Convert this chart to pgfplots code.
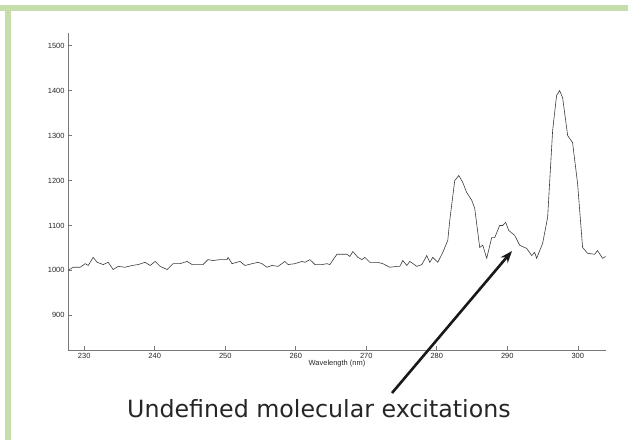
\documentclass[border=0pt]{standalone}
\usepackage{pgfplots}
\pgfplotsset{compat=1.18}
\usepackage{fontspec}
\setmainfont{Liberation Sans}
\newfontfamily\dejavu{DejaVu Sans}
\usetikzlibrary{arrows.meta}
\definecolor{framegreen}{RGB}{198,223,170}
\definecolor{axisgray}{RGB}{120,120,120}
\definecolor{tracegray}{RGB}{60,60,60}

\pgfplotstableread{
w counts
227.73 1000
228.44 1007
229.43 1007
230.14 1015
230.57 1011
231.27 1029
231.84 1018
232.69 1013
233.40 1018
234.11 1002
234.82 1009
235.81 1007
236.80 1011
237.65 1013
238.64 1018
239.35 1011
240.06 1020
240.77 1009
241.76 1002
242.61 1015
243.60 1015
244.59 1020
245.30 1013
246.01 1013
246.86 1013
247.56 1024
248.27 1022
249.26 1024
250.25 1024
250.40 1029
250.96 1015
252.10 1020
252.80 1011
253.80 1015
254.65 1018
255.21 1015
255.92 1007
256.63 1011
257.48 1009
258.47 1020
258.90 1013
259.89 1015
260.88 1020
261.30 1018
262.01 1024
262.72 1013
263.71 1013
264.42 1015
264.84 1013
265.84 1036
267.25 1036
267.68 1031
268.10 1042
268.81 1029
269.38 1024
269.80 1029
270.51 1018
271.64 1018
272.35 1015
273.34 1007
274.33 1009
274.76 1009
275.18 1022
275.75 1011
276.18 1020
277.17 1009
277.88 1013
278.58 1033
279.01 1018
279.43 1029
280.14 1018
280.85 1040
281.56 1067
281.84 1111
282.55 1200
283.12 1211
283.68 1196
284.25 1173
284.96 1156
285.38 1138
286.09 1051
286.52 1056
287.08 1027
287.79 1073
288.22 1073
288.92 1100
289.35 1100
289.77 1107
290.20 1089
291.05 1078
291.76 1056
292.75 1049
293.46 1033
293.88 1040
294.16 1027
295.01 1060
295.72 1118
296.43 1311
296.99 1389
297.42 1400
297.85 1384
298.56 1300
299.26 1284
299.97 1193
300.68 1051
301.39 1038
302.38 1036
302.80 1044
303.51 1027
303.94 1031
}\spectrum

\begin{document}
\begin{tikzpicture}[x=1bp,y=1bp]
\fill[white] (0,0) rectangle (628,-440);
\useasboundingbox (0,0) rectangle (628,-440);
% green frame, top and left
\fill[framegreen] (0,-5) rectangle (628,-11);
\fill[framegreen] (5,-5) rectangle (11,-440);

\begin{axis}[
  at={(68bp,-350bp)},
  anchor=south west,
  scale only axis,
  width=538bp,
  height=317bp,
  xmin=227.7, xmax=304,
  ymin=823, ymax=1528,
  axis x line=bottom,
  axis y line=left,
  axis line style={-, draw=axisgray, line width=0.6bp},
  tick align=inside,
  major tick length=4bp,
  tick style={draw=axisgray, line width=0.6bp},
  xtick={230,240,...,300},
  ytick={900,1000,...,1500},
  ticklabel style={font=\fontsize{7.5}{8}\selectfont, text=black!85},
  /pgf/number format/assume math mode=true,
  /pgf/number format/1000 sep={},
  xlabel={Wavelength (nm)},
  xlabel style={font=\fontsize{7.5}{8}\selectfont, text=black!85, inner sep=0pt, yshift=2bp},
  clip=false,
]
\addplot[tracegray, line width=0.6bp, mark=none] table[x=w, y=counts] {\spectrum};
\end{axis}

\draw[black!90, line width=2.6bp, -{Stealth[length=12bp,width=9bp]}] (392,-393) -- (512,-251);
\node[anchor=base west, inner sep=0pt, text=black!85, font=\dejavu\fontsize{23.8}{26}\selectfont] at (127,-417) {Undefined molecular excitations};
\end{tikzpicture}
\end{document}
